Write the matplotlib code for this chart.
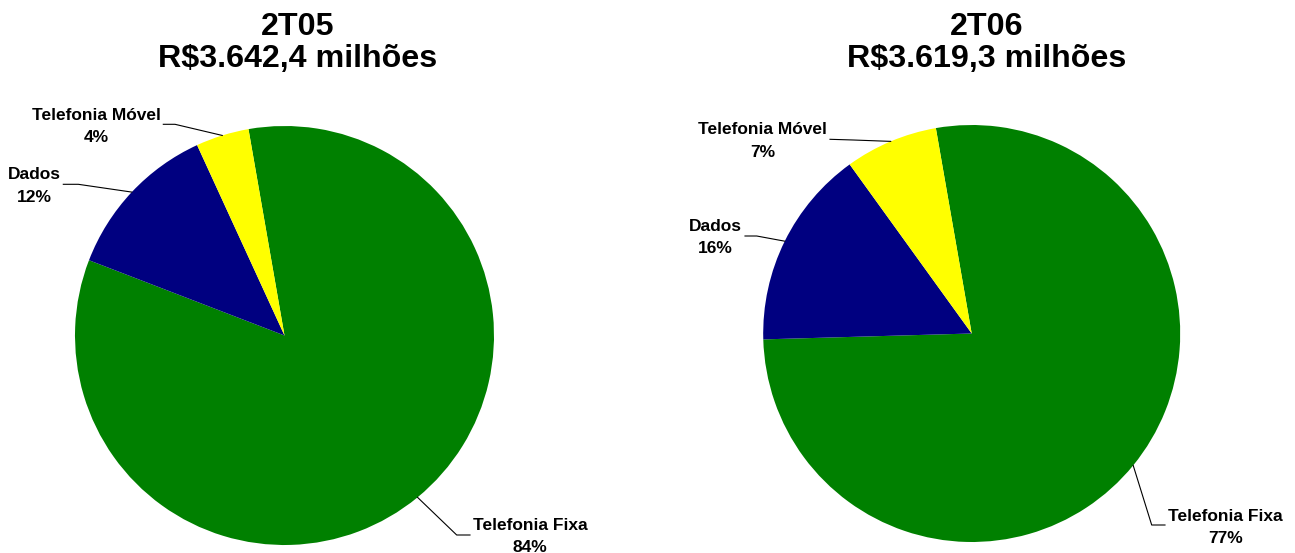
import numpy as np
import matplotlib
matplotlib.use('Agg')
import matplotlib.pyplot as plt
from matplotlib.transforms import Affine2D

plt.rcParams['font.family'] = ['Liberation Sans', 'DejaVu Sans']
plt.rcParams['font.weight'] = 'bold'

# data
periods = ['2T05', '2T06']
totals = ['R$3.642,4 milhões', 'R$3.619,3 milhões']
categories = ['Telefonia Fixa', 'Dados', 'Telefonia Móvel']
shares_2t05 = [83.6, 12.3, 4.1]
shares_2t06 = [77.3, 15.5, 7.2]
colors = ['#008000', '#000080', '#FFFF00']

W, H = 1295, 553

# layout in pixels (origin top-left)
layouts = [
    {'center': (284.5, 335.5), 'radius': 209.5, 'title_x': 297.5,
     'labels': [((530, 530), [(470, 535), (456.7, 535)]),
                ((34.5, 179.3), [(63.3, 184.3), (78.3, 184.3)]),
                ((96, 120), [(163.3, 124.3), (175, 124.3)])]},
    {'center': (971.7, 333.5), 'radius': 208.5, 'title_x': 986.7,
     'labels': [((1225.8, 521), [(1165, 525), (1151.7, 525)]),
                ((715, 231), [(745, 236), (756.7, 236)]),
                ((762.5, 134.3), [(830, 139.3), (853.3, 140)])]},
]


def main():
    fig = plt.figure(figsize=(W / 100, H / 100), dpi=100)
    pix = Affine2D().scale(1 / W, -1 / H).translate(0, 1) + fig.transFigure

    for period, total, shares, lay in zip(periods, totals, [shares_2t05, shares_2t06], layouts):
        cx, cy = lay['center']
        r = lay['radius']
        ax = fig.add_axes([(cx - r) / W, 1 - (cy + r) / H, 2 * r / W, 2 * r / H])
        wedges, _ = ax.pie(shares, colors=colors, startangle=99.9, counterclock=False,
                           radius=1, wedgeprops=dict(linewidth=0))
        ax.set_xlim(-1, 1)
        ax.set_ylim(-1, 1)
        ax.axis('off')

        fig.text(lay['title_x'], 35, period, transform=pix, ha='center', va='baseline', fontsize=23.2)
        fig.text(lay['title_x'], 66.5, total, transform=pix, ha='center', va='baseline', fontsize=23.2)

        for w, cat, val, (txt, leader) in zip(wedges, categories, shares, lay['labels']):
            tx, ty = txt
            fig.text(tx, ty, cat, transform=pix, ha='center', va='baseline', fontsize=12.5)
            fig.text(tx, ty + 22.3, f'{round(val):.0f}%', transform=pix, ha='center',
                     va='baseline', fontsize=12.5)
            mid = np.deg2rad((w.theta1 + w.theta2) / 2)
            ex, ey = cx + r * np.cos(mid), cy - r * np.sin(mid)
            xs = [p[0] for p in leader] + [ex]
            ys = [p[1] for p in leader] + [ey]
            fig.add_artist(plt.Line2D(xs, ys, transform=pix, color='black', linewidth=0.8))

    fig.savefig('out.png', dpi=100)


if __name__ == "__main__":
    main()
